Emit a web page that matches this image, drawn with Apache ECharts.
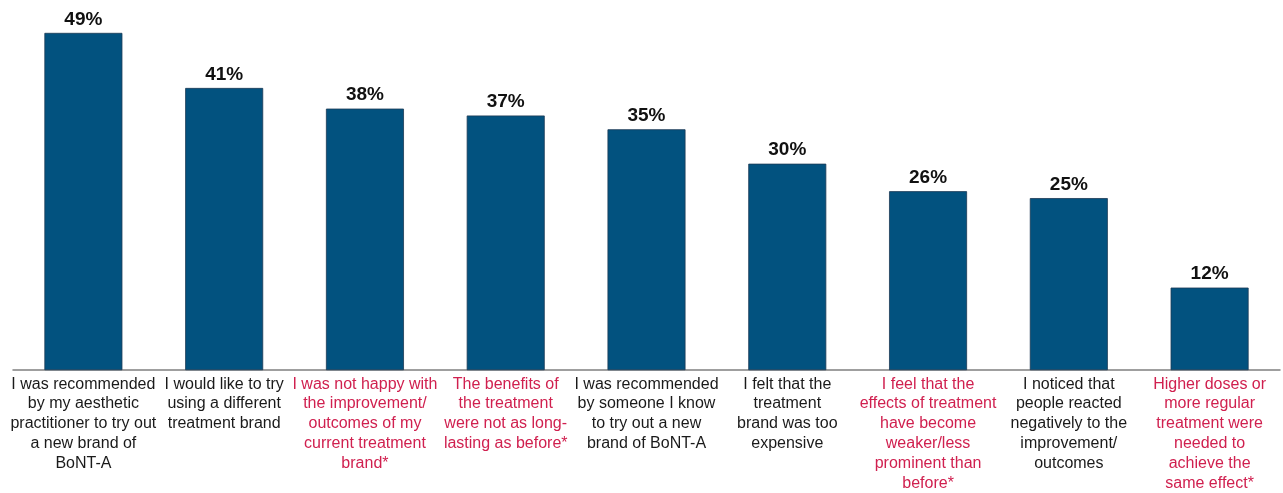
<!DOCTYPE html>
<html><head><meta charset="utf-8">
<script src="https://cdn.jsdelivr.net/npm/echarts@6/dist/echarts.min.js"></script>
<style>html,body{margin:0;padding:0;background:#fff;}#c{width:1283px;height:493px;}</style>
</head><body><div id="c"></div>
<script>
const categories = [
  "I was recommended\nby my aesthetic\npractitioner to try out\na new brand of\nBoNT-A",
  "I would like to try\nusing a different\ntreatment brand",
  "I was not happy with\nthe improvement/\noutcomes of my\ncurrent treatment\nbrand*",
  "The benefits of\nthe treatment\nwere not as long-\nlasting as before*",
  "I was recommended\nby someone I know\nto try out a new\nbrand of BoNT-A",
  "I felt that the\ntreatment\nbrand was too\nexpensive",
  "I feel that the\neffects of treatment\nhave become\nweaker/less\nprominent than\nbefore*",
  "I noticed that\npeople reacted\nnegatively to the\nimprovement/\noutcomes",
  "Higher doses or\nmore regular\ntreatment were\nneeded to\nachieve the\nsame effect*"
];
const highlighted = [false, false, true, true, false, false, true, false, true];
const values = [49, 41, 38, 37, 35, 30, 26, 25, 12];

const chart = echarts.init(document.getElementById('c'), null, {renderer: 'canvas'});
chart.setOption({
  animation: false,
  grid: {left: 13, right: 3, top: 26, bottom: 122, containLabel: false},
  xAxis: {
    type: 'category',
    data: categories.map((c, i) => ({value: c, textStyle: {color: highlighted[i] ? '#d0204f' : '#1a1a1a'}})),
    axisLine: {lineStyle: {color: '#808080', width: 1.5}},
    axisTick: {show: false},
    axisLabel: {interval: 0, margin: 4, fontFamily: 'Liberation Sans, Arial, sans-serif', fontSize: 16, lineHeight: 19.8, align: 'center', hideOverlap: false}
  },
  yAxis: {type: 'value', min: 0, max: 50, show: false, splitLine: {show: false}},
  series: [{
    type: 'bar',
    data: values,
    barWidth: 78,
    itemStyle: {color: '#02527f', borderColor: '#1c3a55', borderWidth: 0.8},
    label: {show: true, position: 'top', distance: 4, formatter: '{c}%', fontFamily: 'Liberation Sans, Arial, sans-serif', fontWeight: 'bold', fontSize: 19, color: '#111'}
  }]
});
</script></body></html>
